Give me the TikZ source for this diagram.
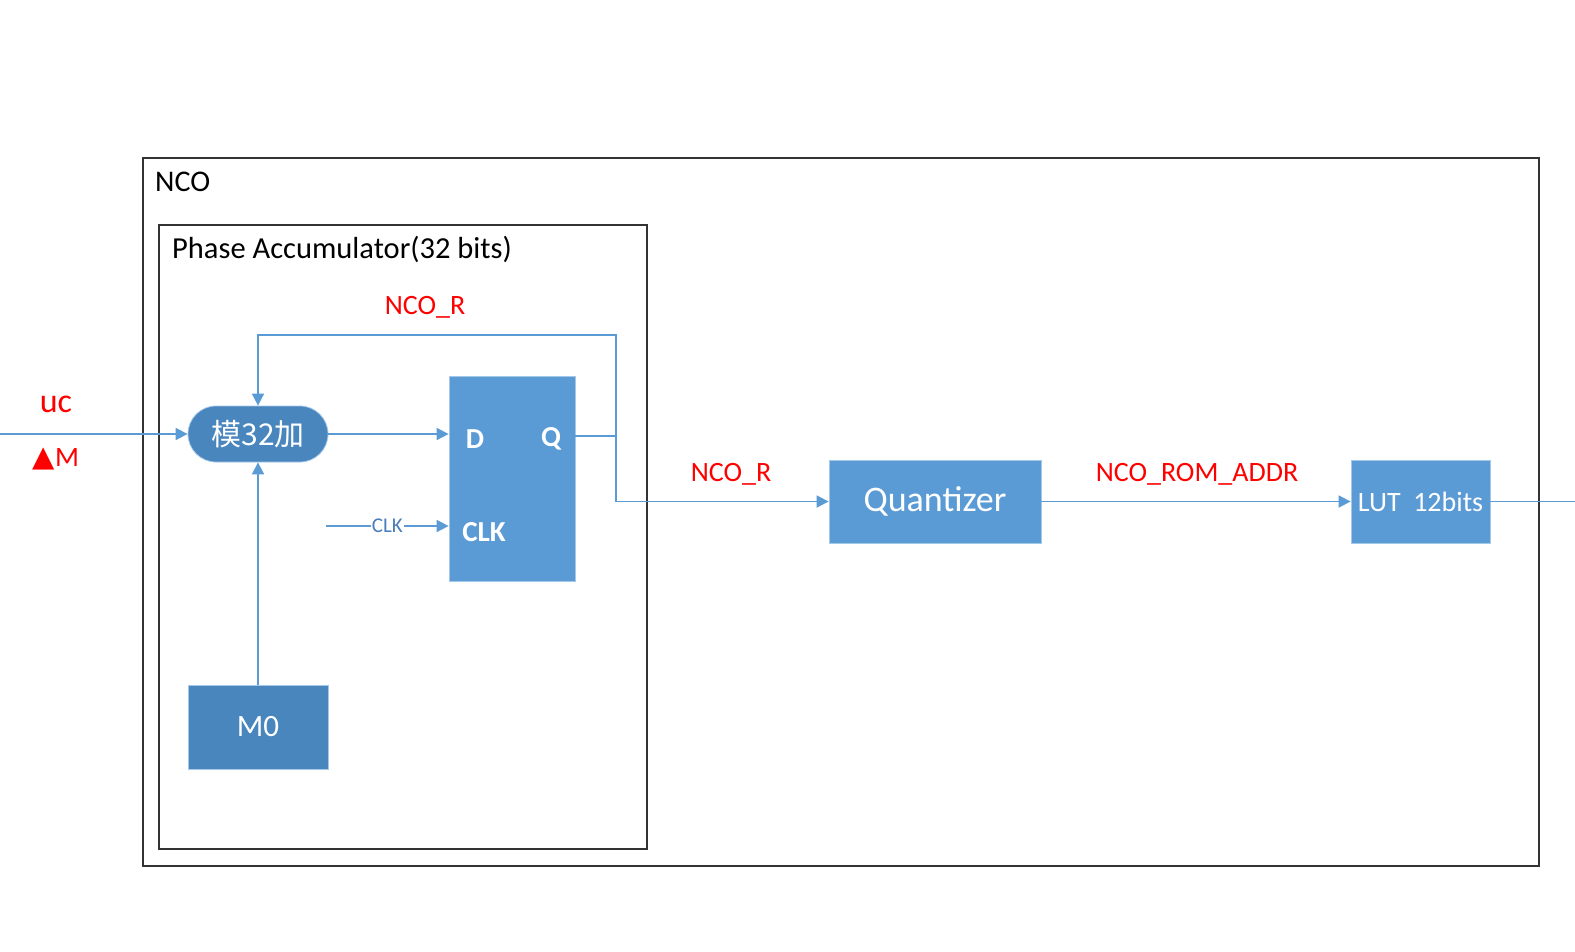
\documentclass[tikz,border=0pt]{standalone}
\usepackage{fontspec}
\setmainfont{Carlito}
\newfontfamily\cjkfont{Noto Sans CJK SC}
\newfontfamily\symfont{DejaVu Sans}
\usepackage{xcolor}
\usetikzlibrary{arrows.meta,calc,positioning}
\definecolor{lineblue}{HTML}{5B9BD5}
\definecolor{boxblue}{HTML}{5B9BD5}
\definecolor{darkblue}{HTML}{4A86BE}
\definecolor{clkblue}{HTML}{4A7EBB}
\newcommand{\fsz}[1]{\fontsize{#1}{#1}\selectfont}

\begin{document}
\begin{tikzpicture}[x=1pt,y=-1pt,
  every node/.style={font=\fsz{28},inner sep=0pt},
  blk/.style={fill=boxblue,draw=boxblue!55!white,line width=0.8pt,text=white},
  wire/.style={draw=lineblue,line width=1.8pt},
  arr/.style={wire,-{Triangle[width=12pt,length=12pt]}},
  frame/.style={draw=black!80,line width=1.6pt},
  redlbl/.style={text=red},
  pin/.style={text=white,font=\bfseries\fsz{29}}]
  \useasboundingbox (0,0) rectangle (1575,951);
  % frames
  \draw[frame] (143,158) rectangle (1539,866);
  \node[anchor=west,font=\fsz{30}] (ncotitle) at (155,182) {NCO};
  \draw[frame] (159,225) rectangle (647,849);
  \node[anchor=west,font=\fsz{30.5}] (patitle) at (172,249) {Phase Accumulator(32 bits)};
  % blocks
  \node[blk,fill=darkblue,rounded corners=28pt,minimum width=140pt,minimum height=56pt,font=\cjkfont\fsz{30}] (adder) at (258,434) {模32加};
  \node[blk,minimum width=126pt,minimum height=205pt] (dff) at (512,478.5) {};
  \node[pin] (dpin) at (475,439) {D};
  \node[pin] (qpin) at (551,439) {Q};
  \node[pin] (clkpin) at (484,532) {CLK};
  \node[blk,fill=darkblue,minimum width=140pt,minimum height=84pt,font=\fsz{31}] (mzero) at (258,727) {M0};
  \node[blk,minimum width=212pt,minimum height=83pt,font=\fsz{36}] (quant) at (935,501.5) {Quantizer};
  \node[blk,minimum width=139pt,minimum height=83pt] (lut) at (1420.5,501.5) {LUT\ \ 12bits};
  % input
  \coordinate (inl) at (0,434);
  \draw[arr] (inl) -- (adder.west);
  \node[redlbl,font=\fsz{34}] (uc) at (56,404) {uc};
  \node[redlbl] (dm) at (56,459) {{\symfont\fsz{29}▲}M};
  % accumulator loop
  \draw[arr] (adder.east) -- (dff.west |- adder.east);
  \coordinate (clkin) at (326,526);
  \draw[arr] (clkin) -- (clkin -| dff.west) node[midway,fill=white,inner sep=1pt,text=clkblue,font=\fsz{21}] (clklbl) {CLK};
  \coordinate (tap) at (616,436);
  \coordinate (fbtop) at (616,335);
  \draw[wire] (dff.east |- tap) -- (tap);
  \draw[arr] (tap) -- (fbtop) -| (adder.north);
  \draw[arr] (mzero.north) -- (adder.south);
  \node[redlbl] (ncorfb) at (425,307) {NCO\_R};
  % datapath
  \draw[arr] (tap) |- (quant.west);
  \node[redlbl] (ncorout) at (731,474) {NCO\_R};
  \draw[arr] (quant) -- (lut);
  \node[redlbl] (romaddr) at (1197,474) {NCO\_ROM\_ADDR};
  \coordinate (outr) at (1575,501.5);
  \draw[wire] (lut.east) -- (outr);
\end{tikzpicture}
\end{document}
